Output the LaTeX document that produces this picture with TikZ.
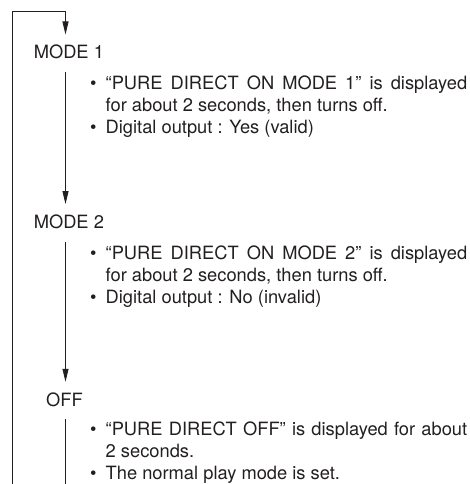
\documentclass[tikz,border=0pt]{standalone}
\usepackage{fontspec}
\setmainfont{TeX Gyre Heros}
\usepackage{xcolor}
\usepackage{tikz}
\usetikzlibrary{arrows.meta}
\definecolor{ink}{HTML}{231F20}
\newcommand{\bulletitem}[1]{\noindent\hangindent=15.5pt\hangafter=1\makebox[15.5pt][l]{\textbullet}#1}

\begin{document}
\begin{tikzpicture}[
  x=1pt, y=-1pt,
  every node/.style={font=\fontsize{18.3}{22}\selectfont, text=ink},
  modelabel/.style={anchor=base west, inner xsep=0pt, inner ysep=0pt, text height=24pt, text depth=13pt},
  info/.style={anchor=base west, inner sep=0pt, text width=377pt, align=justify},
  wire/.style={draw=ink, line width=0.8pt},
  flow/.style={wire, -{Triangle[length=13pt, width=6pt]}},
]
\useasboundingbox (0,0) rectangle (470,484);
\clip (0,0) rectangle (470,484);
\node[modelabel] (mode1) at (33.6,58.7)  {MODE 1};
\node[modelabel] (mode2) at (33.6,228.3) {MODE 2};
\node[modelabel] (off)   at (46,406)     {OFF};
\node[info] (info1) at (90,89.3)  {\bulletitem{“PURE DIRECT ON MODE 1” is displayed\linebreak for about 2 seconds, then turns off.}\par
  \bulletitem{Digital output : Yes (valid)}};
\node[info] (info2) at (90,259.3) {\bulletitem{“PURE DIRECT ON MODE 2” is displayed\linebreak for about 2 seconds, then turns off.}\par
  \bulletitem{Digital output : No (invalid)}};
\node[info] (info3) at (90,435)   {\bulletitem{“PURE DIRECT OFF” is displayed for about\linebreak 2 seconds.}\par
  \bulletitem{The normal play mode is set.}};
% loop back to the top
\coordinate (corner) at (65.5,11.3);
\coordinate (back)   at (12.5,490);
\coordinate (tail)   at (65.5,490);
\draw[flow] (back) |- (corner) -- (corner |- mode1.north);
\draw[flow] (corner |- mode1.south) -- (corner |- mode2.north);
\draw[flow] (corner |- mode2.south) -- (corner |- off.north);
\draw[wire] (corner |- off.south) -- (tail);
\end{tikzpicture}
\end{document}
